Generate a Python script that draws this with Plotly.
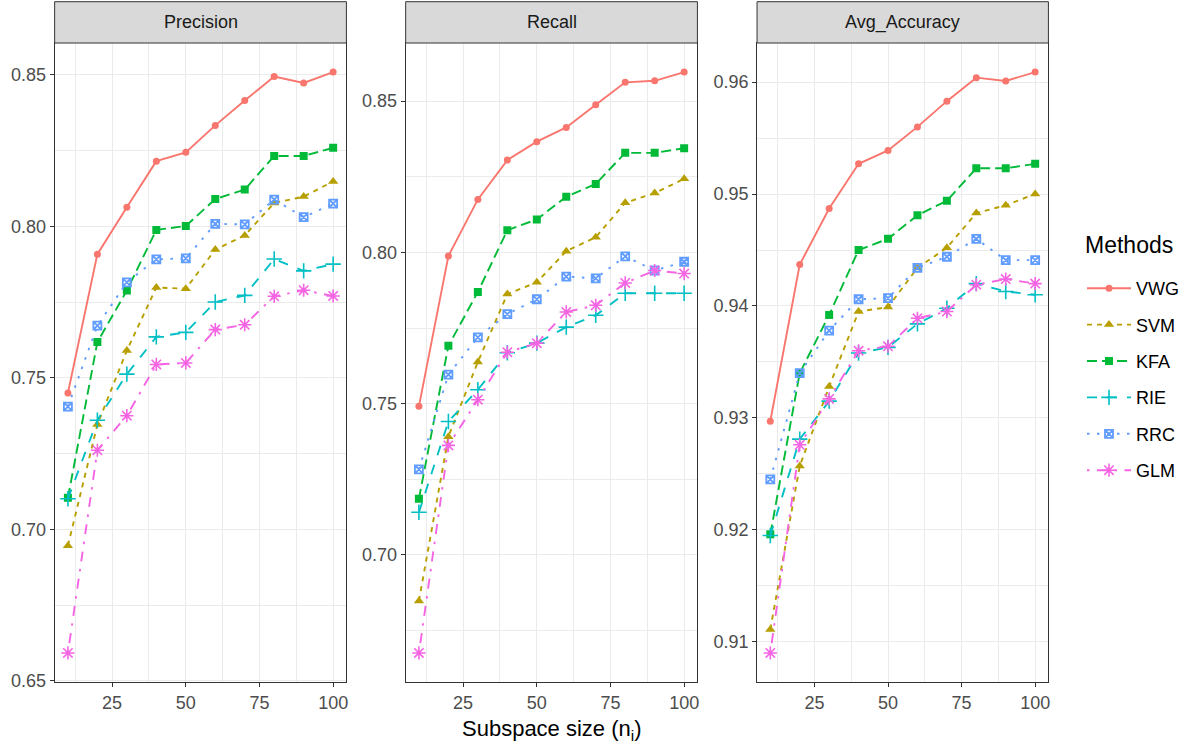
import plotly.graph_objects as go

# ---------------- data ----------------
subspace_sizes = [10, 20, 30, 40, 50, 60, 70, 80, 90, 100]
methods = ["VWG", "SVM", "KFA", "RIE", "RRC", "GLM"]
panel_titles = ["Precision", "Recall", "Avg_Accuracy"]

precision_vwg = [0.745, 0.7908, 0.8063, 0.8215, 0.8244, 0.8333, 0.8415, 0.8494, 0.8473, 0.8509]
precision_svm = [0.6946, 0.7346, 0.7590, 0.7798, 0.7794, 0.7923, 0.7970, 0.8077, 0.8098, 0.8148]
precision_kfa = [0.7104, 0.7618, 0.7788, 0.7988, 0.8001, 0.8090, 0.8121, 0.8232, 0.8232, 0.8259]
precision_rie = [0.7101, 0.7360, 0.7512, 0.7635, 0.7650, 0.7750, 0.7772, 0.7892, 0.7853, 0.7875]
precision_rrc = [0.7405, 0.7672, 0.7815, 0.7891, 0.7894, 0.8008, 0.8006, 0.8088, 0.8030, 0.8075]
precision_glm = [0.6592, 0.7261, 0.7375, 0.7544, 0.7549, 0.7659, 0.7675, 0.7769, 0.7789, 0.7770]

recall_vwg = [0.7491, 0.7988, 0.8175, 0.8305, 0.8366, 0.8413, 0.8488, 0.8562, 0.8567, 0.8596]
recall_svm = [0.6848, 0.7391, 0.7638, 0.7862, 0.7901, 0.8004, 0.8050, 0.8164, 0.8196, 0.8243]
recall_kfa = [0.7186, 0.7691, 0.7869, 0.8073, 0.8109, 0.8184, 0.8226, 0.8329, 0.8329, 0.8344]
recall_rie = [0.7141, 0.7441, 0.7546, 0.7668, 0.7700, 0.7753, 0.7792, 0.7865, 0.7865, 0.7865]
recall_rrc = [0.7283, 0.7596, 0.7719, 0.7796, 0.7845, 0.7920, 0.7914, 0.7987, 0.7940, 0.7969]
recall_glm = [0.6676, 0.7362, 0.7513, 0.7670, 0.7700, 0.7803, 0.7825, 0.7899, 0.7940, 0.7930]

accuracy_vwg = [0.9297, 0.9437, 0.9487, 0.9527, 0.9539, 0.9560, 0.9583, 0.9604, 0.9601, 0.9609]
accuracy_svm = [0.9111, 0.9257, 0.9328, 0.9395, 0.9399, 0.9434, 0.9452, 0.9483, 0.9490, 0.9500]
accuracy_kfa = [0.9196, 0.9340, 0.9392, 0.9450, 0.9460, 0.9481, 0.9494, 0.9523, 0.9523, 0.9527]
accuracy_rie = [0.9195, 0.9281, 0.9315, 0.9358, 0.9363, 0.9384, 0.9398, 0.9420, 0.9413, 0.9410]
accuracy_rrc = [0.9245, 0.9340, 0.9378, 0.9406, 0.9407, 0.9434, 0.9444, 0.9460, 0.9441, 0.9441]
accuracy_glm = [0.9090, 0.9276, 0.9317, 0.9360, 0.9364, 0.9389, 0.9395, 0.9419, 0.9424, 0.9420]

x_ticks = [25, 50, 75, 100]
precision_ticks = [0.65, 0.70, 0.75, 0.80, 0.85]
recall_ticks = [0.70, 0.75, 0.80, 0.85]
accuracy_ticks = [0.91, 0.92, 0.93, 0.94, 0.95, 0.96]

panel_data = [
    [precision_vwg, precision_svm, precision_kfa, precision_rie, precision_rrc, precision_glm],
    [recall_vwg, recall_svm, recall_kfa, recall_rie, recall_rrc, recall_glm],
    [accuracy_vwg, accuracy_svm, accuracy_kfa, accuracy_rie, accuracy_rrc, accuracy_glm],
]
panel_ticks = [precision_ticks, recall_ticks, accuracy_ticks]

# ---------------- styles ----------------
FONT = "Liberation Sans, Arial, sans-serif"
colors = ["#F8766D", "#B79F00", "#00BA38", "#00BFC4", "#619CFF", "#F564E3"]
dashes = ["solid", "5px,5px", "10px,5px", "10px,10px", "2.5px,7.5px", "2.5px,7.5px,10px,7.5px"]
symbols = ["circle", "triangle-up", "square", "cross-thin-open", "square-x-open", "asterisk-open"]
msizes = [7, 9, 8, 11, 8, 11]
mlinew = [0, 0, 0, 1.6, 1.8, 1.6]

W, H = 1184, 749
def px(x):
    return x / W
def py(y):
    return 1 - y / H

panel_x = [(54.7, 346.7), (406.0, 698.0), (757.7, 1049.3)]
panel_top, panel_bottom = 43.0, 682.0
strip_top = 1.7

fig = go.Figure()

for p in range(3):
    axis_suffix = "" if p == 0 else str(p + 1)
    for m, name in enumerate(methods):
        fig.add_trace(go.Scatter(
            x=subspace_sizes, y=panel_data[p][m],
            mode="lines+markers", name=name,
            legendgroup=name, showlegend=(p == 0),
            xaxis="x" + axis_suffix, yaxis="y" + axis_suffix,
            line=dict(color=colors[m], width=1.9, dash=dashes[m]),
            marker=dict(symbol=symbols[m], size=msizes[m], color=colors[m],
                        line=dict(color=colors[m], width=mlinew[m])),
        ))

grid_col = "#EBEBEB"
axis_common = dict(
    showline=True, mirror=True, linecolor="#333333", linewidth=1,
    ticks="outside", ticklen=4, tickcolor="#333333", tickwidth=1,
    showgrid=True, gridcolor=grid_col, gridwidth=1.4, zeroline=False,
    automargin=False,
    tickfont=dict(family=FONT, size=18, color="#4D4D4D"),
)

layout_axes = {}
for p in range(3):
    suf = "" if p == 0 else str(p + 1)
    x0, x1 = panel_x[p]
    ys = [v for series in panel_data[p] for v in series]
    lo, hi = min(ys), max(ys)
    pad = 0.05 * (hi - lo)
    yt = panel_ticks[p]
    ystep = yt[1] - yt[0]
    yminor = [round(t + ystep / 2, 4) for t in [yt[0] - ystep] + yt]
    layout_axes["xaxis" + suf] = dict(
        domain=[px(x0), px(x1)], anchor="y" + suf,
        range=[5.5, 104.5], tickvals=x_ticks,
        minor=dict(tickvals=[12.5, 37.5, 62.5, 87.5], showgrid=True,
                   gridcolor=grid_col, gridwidth=0.7, ticks=""),
        **axis_common)
    layout_axes["yaxis" + suf] = dict(
        domain=[py(panel_bottom), py(panel_top)], anchor="x" + suf,
        range=[lo - pad, hi + pad], tickvals=yt, tickformat=".2f",
        minor=dict(tickvals=yminor, showgrid=True,
                   gridcolor=grid_col, gridwidth=0.7, ticks=""),
        **axis_common)

shapes = []
annotations = []
for p in range(3):
    x0, x1 = panel_x[p]
    shapes.append(dict(type="rect", xref="paper", yref="paper",
                       x0=px(x0), x1=px(x1), y0=py(panel_top), y1=py(strip_top),
                       fillcolor="#D9D9D9", line=dict(color="#333333", width=1),
                       layer="above"))
    annotations.append(dict(xref="paper", yref="paper", x=px((x0 + x1) / 2),
                            y=py((panel_top + strip_top) / 2), text=panel_titles[p],
                            showarrow=False, xanchor="center", yanchor="middle",
                            font=dict(family=FONT, size=18, color="#1A1A1A")))

annotations.append(dict(xref="paper", yref="paper", x=px(552), y=py(730),
                        text="Subspace size (n<sub>i</sub>)", showarrow=False,
                        xanchor="center", yanchor="middle",
                        font=dict(family=FONT, size=22, color="#000000")))

annotations.append(dict(xref="paper", yref="paper", x=px(1084), y=py(245),
                        text="Methods", showarrow=False,
                        xanchor="left", yanchor="middle",
                        font=dict(family=FONT, size=23, color="#000000")))

fig.update_layout(
    width=W, height=H,
    margin=dict(l=0, r=0, t=0, b=0),
    paper_bgcolor="white", plot_bgcolor="white",
    shapes=shapes, annotations=annotations,
    font=dict(family=FONT),
    legend=dict(
        x=px(1083), y=py(270), xanchor="left", yanchor="top",
        font=dict(family=FONT, size=18, color="#000000"),
        tracegroupgap=10, itemwidth=44, bgcolor="rgba(0,0,0,0)",
    ),
    **layout_axes,
)

fig.write_html("out.html", config={"displayModeBar": False},
               post_script="document.body.style.margin='0';")
